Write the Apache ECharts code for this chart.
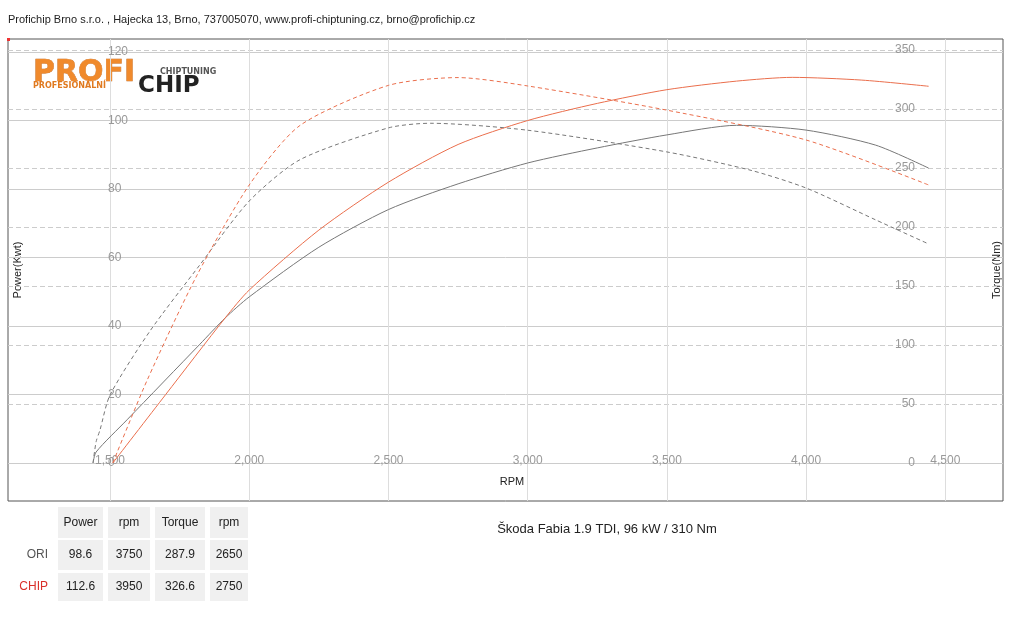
<!DOCTYPE html>
<html><head><meta charset="utf-8">
<script src="https://cdn.jsdelivr.net/npm/echarts@6/dist/echarts.min.js"></script>
<style>html,body{margin:0;padding:0;background:#fff}#c{width:1024px;height:627px}</style>
</head><body><div id="c"></div>
<script>
const rpmTicks=[1500,2000,2500,3000,3500,4000,4500];
const powerTicks=[0,20,40,60,80,100,120];
const torqueTicks=[0,50,100,150,200,250,300,350];
const oriPowerRpm=[1439,1450,1561,1823,1913,2000,2250,2500,2750,3000,3250,3500,3750,4000,4250,4440];
const oriPower=[0,3.2,12.6,34.7,42.3,48.5,63,74,81.5,87.6,92,95.8,98.6,97.2,92.8,86.1];
const chipPowerRpm=[1510,1700,1913,2000,2250,2500,2750,3000,3250,3500,3750,3950,4200,4440];
const chipPower=[0,20,42.3,50.5,68,82,93,100,105,109,111.5,112.6,111.8,110];
const oriTorqueRpm=[1439,1450,1464,1500,1644,1823,2000,2182,2500,2650,3000,3500,3802,4000,4250,4440];
const oriTorque=[0,18,28,57.6,112,168,222,257,284,287.9,282,263.6,248,233,206,185.6];
const chipTorqueRpm=[1510,1633,1812,2000,2182,2500,2750,3000,3500,4000,4440];
const chipTorque=[0,70,159,235.6,286,320,326.6,319.5,299,273.7,235.6];
const tableHead=['Power','rpm','Torque','rpm'];
const tableRows=[['ORI','98.6','3750','287.9','2650'],['CHIP','112.6','3950','326.6','2750']];
const title='Škoda Fabia 1.9 TDI, 96 kW / 310 Nm';
const header='Profichip Brno s.r.o. , Hajecka 13, Brno, 737005070, www.profi-chiptuning.cz, brno@profichip.cz';
const GRAY='#777', ORANGE='#ea6e4c';
const zip=(a,b)=>a.map((v,i)=>[v,b[i]]);
const ch=echarts.init(document.getElementById('c'));
const g=[];
const colX=[[58,45],[108,42],[155,50],[210,38]];
const rowY=[[507,31],[540,30],[573,28]];
const F={fontSize:11,fill:'#222',fontFamily:'Arial',align:'center',verticalAlign:'middle'};
g.push({type:'text',left:8,top:14,style:{text:header,fontSize:11,fill:'#222',fontFamily:'Arial'}});
g.push({type:'text',x:512,y:482,style:{...F,text:'RPM'}});
g.push({type:'text',x:18,y:270,rotation:Math.PI/2,style:{...F,text:'Power(Kwt)'}});
g.push({type:'text',x:997,y:270,rotation:Math.PI/2,style:{...F,text:'Torque(Nm)'}});
colX.forEach((c,i)=>{rowY.forEach((r,j)=>{g.push({type:'rect',shape:{x:c[0],y:r[0],width:c[1],height:r[1]},style:{fill:'#f0f0f0'}});
 const t=j===0?tableHead[i]:tableRows[j-1][i+1];
 g.push({type:'text',x:c[0]+c[1]/2,y:r[0]+r[1]/2,style:{text:t,fontSize:12,fill:'#222',align:'center',verticalAlign:'middle',fontFamily:'Arial'}});});});
tableRows.forEach((r,j)=>g.push({type:'text',x:48,y:rowY[j+1][0]+rowY[j+1][1]/2,style:{text:r[0],fontSize:12,fill:j?'#d9302a':'#555',align:'right',verticalAlign:'middle',fontFamily:'Arial'}}));
g.push({type:'text',x:607,y:529,style:{text:title,fontSize:13,fill:'#222',align:'center',verticalAlign:'middle',fontFamily:'Arial'}});
g.push({type:'text',x:33,y:58,style:{text:'PROFI',fontSize:30,fontWeight:'bold',fill:'#f08a2c',fontFamily:'DejaVu Sans',stroke:'#b85a10',lineWidth:0.5}});
g.push({type:'text',x:33,y:82,style:{text:'PROFESIONÁLNÍ',fontSize:8,fontWeight:'bold',fill:'#e07a20',fontFamily:'DejaVu Sans'}});
g.push({type:'text',x:160,y:68,style:{text:'CHIPTUNING',fontSize:8,fontWeight:'bold',fill:'#555',fontFamily:'DejaVu Sans'}});
g.push({type:'text',x:138,y:75,style:{text:'CHIP',fontSize:23,fontWeight:'bold',fill:'#222',fontFamily:'DejaVu Sans'}});
g.push({type:'rect',shape:{x:7,y:38,width:3,height:3},style:{fill:'#e33'}});
const common={type:'line',smooth:0.25,symbol:'none'};
ch.setOption({
 animation:false,
 grid:{left:8,right:21,top:39,bottom:126,show:true,borderColor:'#555',borderWidth:1,outerBoundsMode:'none',containLabel:false},
 xAxis:{type:'value',min:1133.6,max:4707,
  axisLine:{show:false,onZero:false},axisTick:{show:false,customValues:rpmTicks},
  axisLabel:{customValues:rpmTicks,margin:-46,color:'#999',fontSize:12,fontFamily:'Arial',formatter:v=>v.toLocaleString('en-US')},
  splitLine:{show:true,lineStyle:{color:'#ddd',width:1}}},
 yAxis:[{type:'value',min:-11.1,max:123.8,
   axisLine:{show:false},axisTick:{show:false,customValues:powerTicks},
   axisLabel:{customValues:powerTicks,inside:true,margin:100,color:'#999',fontSize:12,fontFamily:'Arial'},
   splitLine:{show:true,lineStyle:{color:'#ccc'}}},
  {type:'value',min:-32.2,max:359.3,position:'right',
   axisLine:{show:false},axisTick:{show:false,customValues:torqueTicks},
   axisLabel:{customValues:torqueTicks,inside:true,margin:88,color:'#999',fontSize:12,fontFamily:'Arial'},
   splitLine:{show:true,lineStyle:{color:'#ccc',type:[5,3]}}}],
 series:[
  {...common,data:zip(oriPowerRpm,oriPower),lineStyle:{color:GRAY,width:1}},
  {...common,data:zip(chipPowerRpm,chipPower),lineStyle:{color:ORANGE,width:1}},
  {...common,yAxisIndex:1,data:zip(oriTorqueRpm,oriTorque),lineStyle:{color:GRAY,width:1,type:[4,3]}},
  {...common,yAxisIndex:1,data:zip(chipTorqueRpm,chipTorque),lineStyle:{color:ORANGE,width:1,type:[4,3]}}],
 graphic:g
});
</script></body></html>
